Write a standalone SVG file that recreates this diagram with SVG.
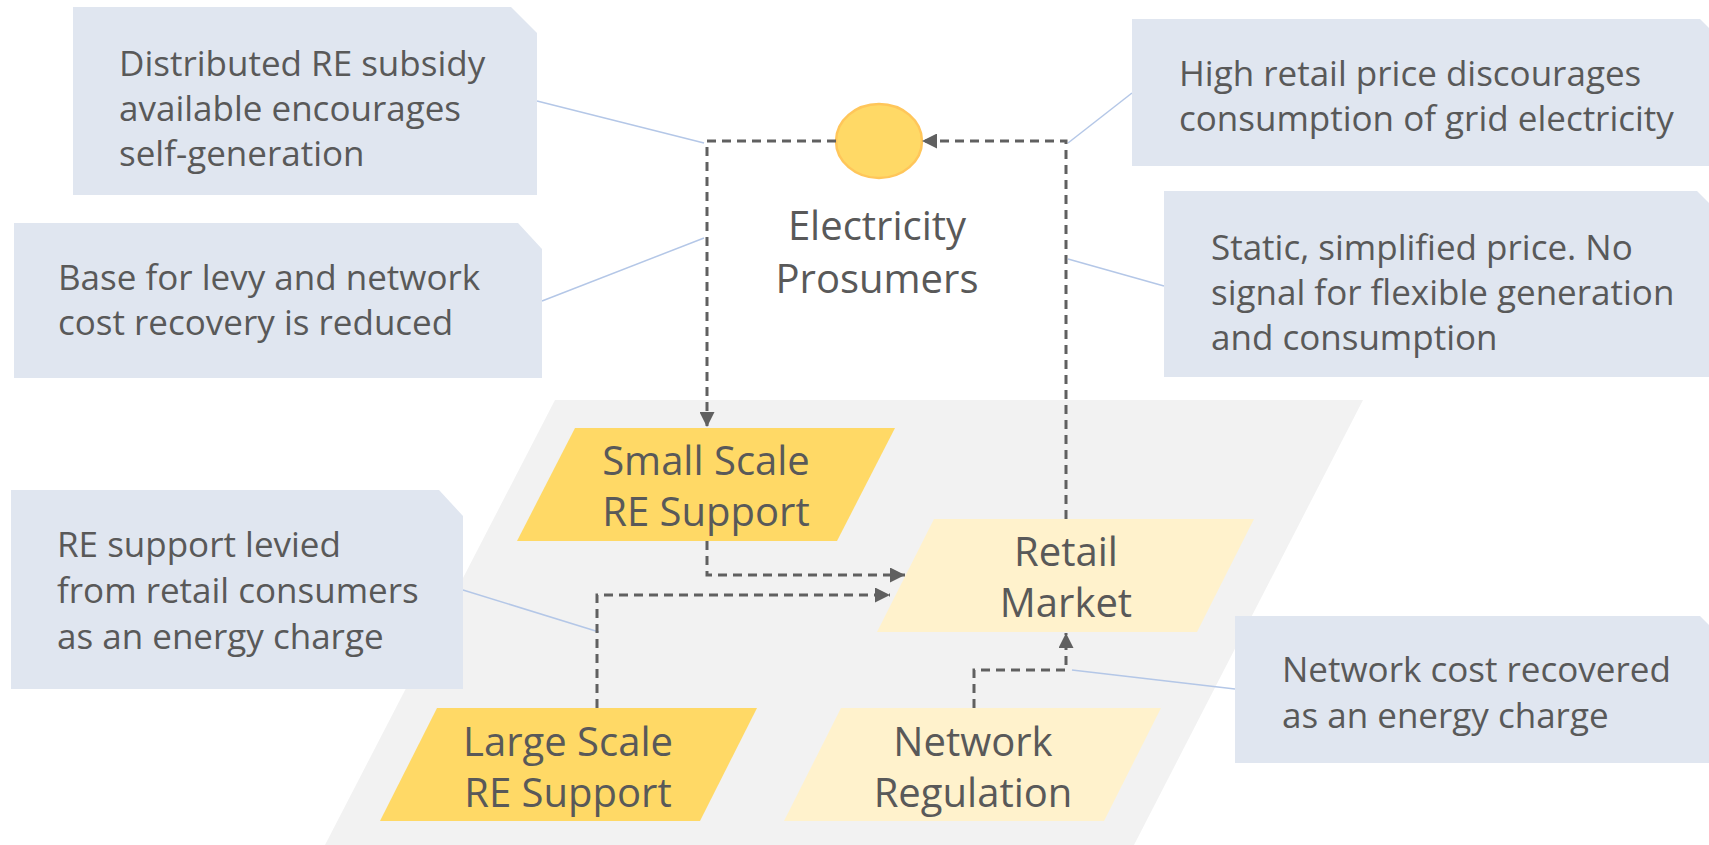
<svg xmlns="http://www.w3.org/2000/svg" width="1709" height="845" viewBox="0 0 1709 845">
<style>
text{font-family:"Open Sans","Noto Sans",sans-serif;fill:#595959}
.ct{font-size:35px}
.nt{font-size:40px;text-anchor:middle}
.callout{fill:#E0E6F0}
.leader{stroke:#B4C7E7;stroke-width:1.5;fill:none}
.dash{stroke:#606060;stroke-width:3;stroke-dasharray:9 6;fill:none}
.dark{fill:#FFD966}
.light{fill:#FFF2CC}
</style>
<defs>
<marker id="arr" markerUnits="userSpaceOnUse" markerWidth="15" markerHeight="15" refX="15" refY="7.5" orient="auto">
<path d="M0,0 L15,7.5 L0,15 z" fill="#606060"/>
</marker>
</defs>
<rect width="1709" height="845" fill="#FFFFFF"/>
<polygon points="555,400 1363,400 1134,845 325,845" fill="#F2F2F2"/>

<g id="leaders">
<line class="leader" x1="537" y1="101" x2="704" y2="143"/>
<line class="leader" x1="542" y1="301" x2="704" y2="238"/>
<line class="leader" x1="463" y1="590" x2="599" y2="632"/>
<line class="leader" x1="1132" y1="93" x2="1068" y2="143"/>
<line class="leader" x1="1164" y1="286" x2="1068" y2="259"/>
<line class="leader" x1="1235" y1="689" x2="1072" y2="670"/>
</g>

<g id="callout-subsidy">
<polygon class="callout" points="73,7 511,7 537,33 537,195 73,195"/>
<text class="ct" x="119" y="76">Distributed RE subsidy</text>
<text class="ct" x="119" y="121">available encourages</text>
<text class="ct" x="119" y="166">self-generation</text>
</g>
<g id="callout-base">
<polygon class="callout" points="14,223 518,223 542,249 542,378 14,378"/>
<text class="ct" x="58" y="290">Base for levy and network</text>
<text class="ct" x="58" y="335">cost recovery is reduced</text>
</g>
<g id="callout-levied">
<polygon class="callout" points="11,490 439,490 463,516 463,689 11,689"/>
<text class="ct" x="57" y="557">RE support levied</text>
<text class="ct" x="57" y="603">from retail consumers</text>
<text class="ct" x="57" y="649">as an energy charge</text>
</g>
<g id="callout-highprice">
<polygon class="callout" points="1132,19 1700,19 1726,45 1726,166 1132,166"/>
<text class="ct" x="1179" y="86">High retail price discourages</text>
<text class="ct" x="1179" y="131">consumption of grid electricity</text>
</g>
<g id="callout-static">
<polygon class="callout" points="1164,191 1697,191 1723,217 1723,377 1164,377"/>
<text class="ct" x="1211" y="260">Static, simplified price. No</text>
<text class="ct" x="1211" y="305">signal for flexible generation</text>
<text class="ct" x="1211" y="350">and consumption</text>
</g>
<g id="callout-network">
<polygon class="callout" points="1235,616 1700,616 1726,642 1726,763 1235,763"/>
<text class="ct" x="1282" y="682">Network cost recovered</text>
<text class="ct" x="1282" y="728">as an energy charge</text>
</g>

<g id="node-prosumers">
<ellipse cx="879" cy="141" rx="43" ry="37" fill="#FFD966" stroke="#FFC65A" stroke-width="2.5"/>
<text class="nt" x="877" y="240">Electricity</text>
<text class="nt" x="877" y="293">Prosumers</text>
</g>
<g id="node-small">
<polygon class="dark" points="575,428 895,428 837,541 517,541"/>
<text class="nt" x="706" y="475">Small Scale</text>
<text class="nt" x="706" y="526">RE Support</text>
</g>
<g id="node-retail">
<polygon class="light" points="934,519 1254,519 1197,632 877,632"/>
<text class="nt" x="1066" y="566">Retail</text>
<text class="nt" x="1066" y="617">Market</text>
</g>
<g id="node-large">
<polygon class="dark" points="437,708 757,708 700,821 380,821"/>
<text class="nt" x="568" y="756">Large Scale</text>
<text class="nt" x="568" y="807">RE Support</text>
</g>
<g id="node-network">
<polygon class="light" points="841,708 1161,708 1104,821 784,821"/>
<text class="nt" x="973" y="756">Network</text>
<text class="nt" x="973" y="807">Regulation</text>
</g>

<g id="connectors">
<path class="dash" d="M836,141 H707 V427" marker-end="url(#arr)"/>
<path class="dash" d="M1066,519 V141 H922" marker-end="url(#arr)"/>
<path class="dash" d="M707,541 V575 H905" marker-end="url(#arr)"/>
<path class="dash" d="M597,708 V595 H890" marker-end="url(#arr)"/>
<path class="dash" d="M974,708 V670 H1066 V633" marker-end="url(#arr)"/>
</g>
</svg>
